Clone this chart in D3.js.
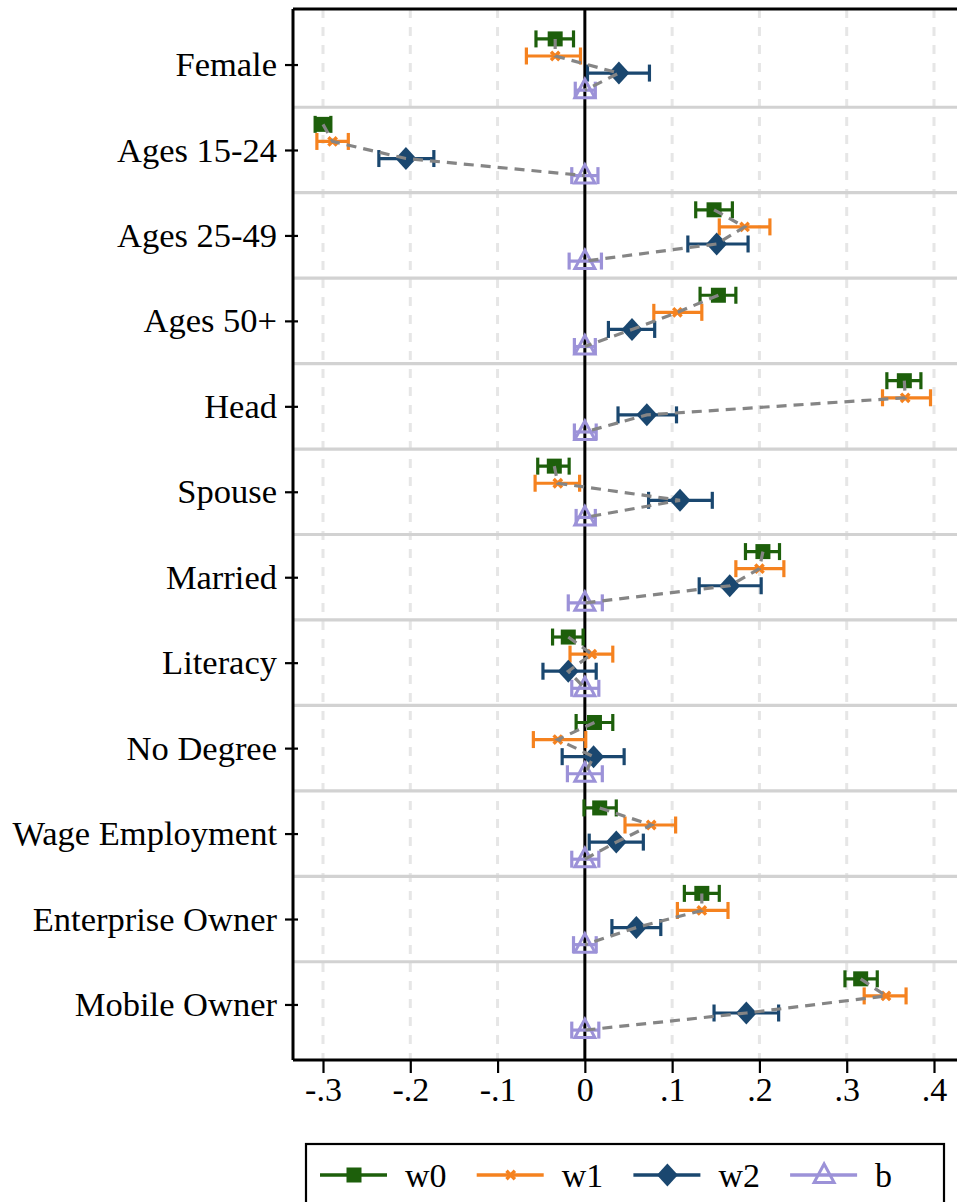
<!DOCTYPE html>
<html>
<head>
<meta charset="utf-8">
<script src="https://cdn.jsdelivr.net/npm/d3@7"></script>
<style>
  html, body { margin: 0; padding: 0; background: #fff; }
  svg { display: block; }
  text { font-family: "Liberation Serif", "Times New Roman", serif; fill: #000; }
</style>
</head>
<body>
<svg id="chart" width="957" height="1202"></svg>
<script>
// Covariates, top to bottom
const categories = ["Female", "Ages 15-24", "Ages 25-49", "Ages 50+", "Head", "Spouse",
  "Married", "Literacy", "No Degree", "Wage Employment", "Enterprise Owner", "Mobile Owner"];

// Point estimates and 95% interval bounds for each series
const w0   = [-0.034, -0.300, 0.148, 0.153, 0.366, -0.035, 0.204, -0.019, 0.011, 0.017, 0.134, 0.316];
const w0Lo = [-0.056, -0.309, 0.127, 0.132, 0.346, -0.054, 0.184, -0.037, -0.010, -0.001, 0.114, 0.298];
const w0Hi = [-0.013, -0.291, 0.169, 0.173, 0.385, -0.018, 0.223, -0.002, 0.032, 0.036, 0.154, 0.335];

const w1   = [-0.034, -0.289, 0.183, 0.106, 0.367, -0.031, 0.200, 0.008, -0.031, 0.076, 0.134, 0.345];
const w1Lo = [-0.067, -0.307, 0.154, 0.079, 0.341, -0.057, 0.173, -0.017, -0.059, 0.046, 0.106, 0.320];
const w1Hi = [-0.005, -0.271, 0.212, 0.134, 0.396, -0.006, 0.228, 0.032, 0.001, 0.104, 0.164, 0.368];

const w2   = [0.039, -0.205, 0.151, 0.054, 0.071, 0.109, 0.166, -0.019, 0.010, 0.036, 0.059, 0.185];
const w2Lo = [0.003, -0.236, 0.118, 0.027, 0.038, 0.073, 0.131, -0.048, -0.026, 0.005, 0.031, 0.148];
const w2Hi = [0.074, -0.173, 0.187, 0.080, 0.105, 0.146, 0.202, 0.013, 0.045, 0.067, 0.087, 0.222];

const b    = [0, 0, 0, 0, 0, 0, 0, 0, 0, 0, 0, 0];
const bLo  = [-0.011, -0.015, -0.018, -0.012, -0.012, -0.010, -0.019, -0.015, -0.020, -0.015, -0.013, -0.015];
const bHi  = [0.012, 0.015, 0.019, 0.012, 0.013, 0.012, 0.020, 0.016, 0.020, 0.016, 0.013, 0.016];

const seriesNames = ["w0", "w1", "w2", "b"];
const xTicks = [-0.3, -0.2, -0.1, 0, 0.1, 0.2, 0.3, 0.4];
const xTickLabels = ["-.3", "-.2", "-.1", "0", ".1", ".2", ".3", ".4"];

// Series styling
const series = [
  { name: seriesNames[0], est: w0, lo: w0Lo, hi: w0Hi, color: "#1d5f0b", symbol: "square",   offset: -0.3 },
  { name: seriesNames[1], est: w1, lo: w1Lo, hi: w1Hi, color: "#f5821f", symbol: "cross",    offset: -0.1 },
  { name: seriesNames[2], est: w2, lo: w2Lo, hi: w2Hi, color: "#1a476f", symbol: "diamond",  offset: 0.1 },
  { name: seriesNames[3], est: b,  lo: bLo,  hi: bHi,  color: "#9c92d8", symbol: "triangle", offset: 0.3 }
];

const svg = d3.select("#chart");
const FONT = "Liberation Serif, Times New Roman, serif";

const plot = { left: 293, right: 962, top: 9, bottom: 1060 };

const x = d3.scaleLinear().domain([-0.3, 0.4]).range([323, 934]);
const y = d3.scaleLinear().domain([0.35, 12.65]).range([plot.top, plot.bottom]);
const catPos = i => y(i + 1);
const band = y(2) - y(1);

// Vertical dashed grid
svg.append("g").selectAll("line")
  .data(xTicks.filter(t => t !== 0))
  .join("line")
  .attr("x1", d => x(d)).attr("x2", d => x(d))
  .attr("y1", plot.top).attr("y2", plot.bottom)
  .attr("stroke", "#e6e6e6").attr("stroke-width", 3)
  .attr("stroke-dasharray", "9,9");

// Horizontal separators between covariates
svg.append("g").selectAll("line")
  .data(d3.range(1, categories.length))
  .join("line")
  .attr("x1", plot.left).attr("x2", plot.right)
  .attr("y1", d => y(d + 0.5)).attr("y2", d => y(d + 0.5))
  .attr("stroke", "#d2d2d2").attr("stroke-width", 3.2);

// Zero reference line
svg.append("line")
  .attr("x1", x(0)).attr("x2", x(0))
  .attr("y1", plot.top).attr("y2", plot.bottom)
  .attr("stroke", "#000").attr("stroke-width", 3);

// Top frame line
svg.append("line").attr("x1", plot.left).attr("x2", plot.right)
  .attr("y1", plot.top).attr("y2", plot.top).attr("stroke", "#000").attr("stroke-width", 3);

// Y axis
const yAxis = d3.axisLeft(y)
  .tickValues(d3.range(1, categories.length + 1))
  .tickFormat(d => categories[d - 1])
  .tickSizeInner(8).tickSizeOuter(0).tickPadding(8);
const gy = svg.append("g").attr("transform", `translate(${plot.left},0)`).call(yAxis);
gy.select(".domain").attr("stroke-width", 3).attr("d", `M0,${plot.top}V${plot.bottom}`);
gy.selectAll(".tick line").attr("stroke-width", 2.2).attr("x2", -8).attr("x1", 5);
gy.selectAll(".tick text").attr("font-size", 34.5)
  .attr("font-family", FONT)
  .attr("x", -16);

// X axis
const xAxis = d3.axisBottom(x)
  .tickValues(xTicks)
  .tickFormat((d, i) => xTickLabels[i])
  .tickSizeInner(13).tickSizeOuter(0).tickPadding(4);
const gx = svg.append("g").attr("transform", `translate(0,${plot.bottom})`).call(xAxis);
gx.select(".domain").attr("stroke-width", 3).attr("d", `M${plot.left},0H${plot.right}`);
gx.selectAll(".tick line").attr("stroke-width", 2.2);
gx.selectAll(".tick text").attr("font-size", 34)
  .attr("font-family", FONT);

// Marker drawing helper
function drawMarker(g, symbol, color, cx, cy) {
  if (symbol === "square") {
    const h = 7.5;
    g.append("rect").attr("x", cx - h).attr("y", cy - h).attr("width", 2 * h).attr("height", 2 * h)
      .attr("fill", color);
  } else if (symbol === "cross") {
    const h = 4.2;
    g.append("path").attr("d", `M${cx - h},${cy - h}L${cx + h},${cy + h}M${cx - h},${cy + h}L${cx + h},${cy - h}`)
      .attr("stroke", color).attr("stroke-width", 3.4).attr("fill", "none");
  } else if (symbol === "diamond") {
    const w = 10.5, hh = 11.5;
    g.append("path").attr("d", `M${cx},${cy - hh}L${cx + w},${cy}L${cx},${cy + hh}L${cx - w},${cy}Z`)
      .attr("fill", color);
  } else if (symbol === "triangle") {
    const w = 10, up = 11, dn = 7.5;
    g.append("path").attr("d", `M${cx},${cy - up}L${cx + w},${cy + dn}L${cx - w},${cy + dn}Z`)
      .attr("fill", "none").attr("stroke", color).attr("stroke-width", 3).attr("stroke-linejoin", "miter");
  }
}

// Error bars with caps
const marks = svg.append("g");
series.forEach(s => {
  categories.forEach((c, i) => {
    const cy = catPos(i) + s.offset * band;
    const g = marks.append("g");
    g.append("line").attr("x1", x(s.lo[i])).attr("x2", x(s.hi[i]))
      .attr("y1", cy).attr("y2", cy).attr("stroke", s.color).attr("stroke-width", 3.2);
    [s.lo[i], s.hi[i]].forEach(v => {
      g.append("line").attr("x1", x(v)).attr("x2", x(v))
        .attr("y1", cy - 8.5).attr("y2", cy + 8.5).attr("stroke", s.color).attr("stroke-width", 3.2);
    });
  });
});

// Point markers
series.forEach(s => {
  categories.forEach((c, i) => {
    const cy = catPos(i) + s.offset * band;
    drawMarker(marks, s.symbol, s.color, x(s.est[i]), cy);
  });
});

// Dashed connector through the four estimates of each covariate
const connector = d3.line().x(d => d[0]).y(d => d[1]);
svg.append("g").selectAll("path")
  .data(categories.map((c, i) => series.map(s => [x(s.est[i]), catPos(i) + s.offset * band])))
  .join("path")
  .attr("d", connector)
  .attr("fill", "none").attr("stroke", "#858585").attr("stroke-width", 3.2)
  .attr("stroke-dasharray", "10,7");

// Legend
const legend = svg.append("g");
legend.append("rect").attr("x", 306).attr("y", 1144).attr("width", 638).attr("height", 80)
  .attr("fill", "#fff").attr("stroke", "#000").attr("stroke-width", 2.2);
series.forEach((s, k) => {
  const x0 = 320 + k * 156.7;
  const ly = 1175;
  legend.append("line").attr("x1", x0).attr("x2", x0 + 67).attr("y1", ly).attr("y2", ly)
    .attr("stroke", s.color).attr("stroke-width", 3.4);
  drawMarker(legend, s.symbol, s.color, x0 + 34, ly);
  legend.append("text").attr("x", x0 + 85).attr("y", ly).attr("dy", "0.35em")
    .attr("font-size", 34).attr("font-family", FONT).text(s.name);
});
</script>
</body>
</html>
